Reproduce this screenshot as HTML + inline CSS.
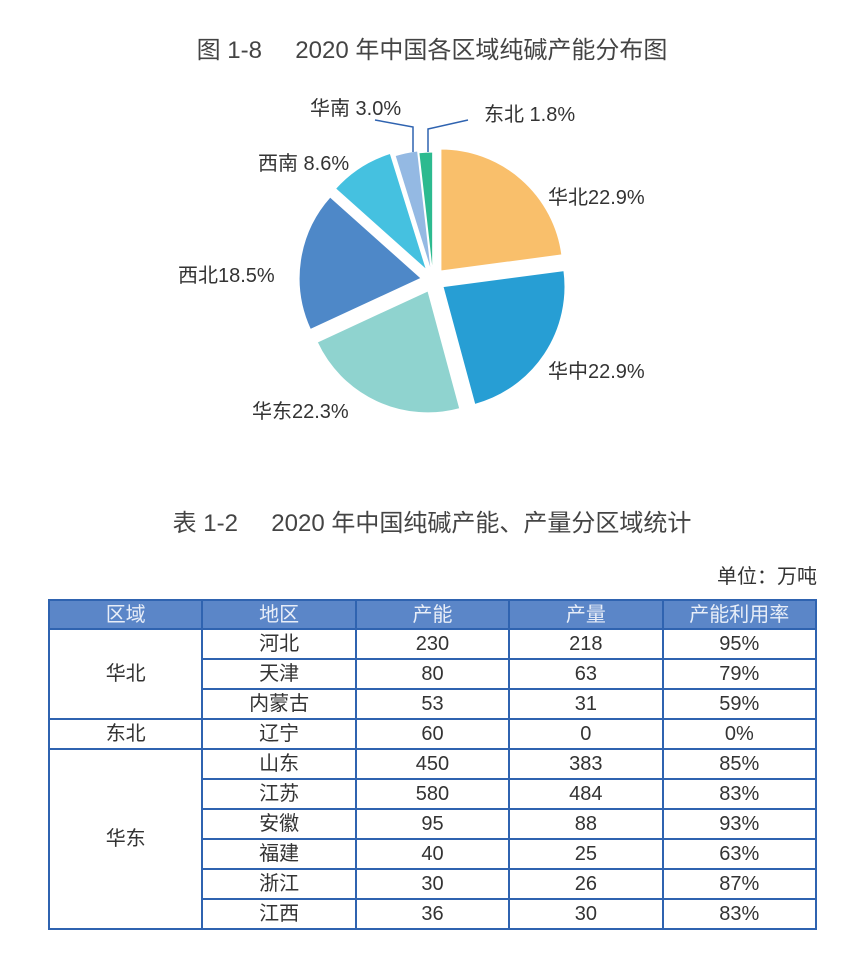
<!DOCTYPE html>
<html><head><meta charset="utf-8"><style>
body{margin:0;background:#fff;width:864px;height:956px;overflow:hidden;font-family:"Liberation Sans","Noto Sans CJK SC",sans-serif;color:#333;position:relative}
.t{position:absolute;white-space:nowrap}
table{position:absolute;left:48px;top:599px;width:769px;border-collapse:collapse;table-layout:fixed}
td,th{border:2px solid #2f63b0;height:28px;line-height:26px;padding:0;text-align:center;font-size:20px;font-weight:normal;color:#333;vertical-align:middle}
th{background:#5b86c8;color:#e8eef8;height:27px}
</style></head><body>
<div class="t" style="left:0;width:864px;text-align:center;top:30px;font-size:24px;color:#444">图 1-8&nbsp;&nbsp;&nbsp;&nbsp;&nbsp;2020 年中国各区域纯碱产能分布图</div>
<svg id="pie" width="864" height="470" style="position:absolute;left:0;top:0"></svg>
<div class="t" style="left:310px;top:92px;font-size:20px">华南 3.0%</div>
<div class="t" style="left:484px;top:98px;font-size:20px">东北 1.8%</div>
<div class="t" style="left:258px;top:147px;font-size:20px">西南 8.6%</div>
<div class="t" style="left:548px;top:181px;font-size:20px">华北22.9%</div>
<div class="t" style="left:178px;top:259px;font-size:20px">西北18.5%</div>
<div class="t" style="left:548px;top:355px;font-size:20px">华中22.9%</div>
<div class="t" style="left:252px;top:395px;font-size:20px">华东22.3%</div>
<div class="t" style="left:0;width:864px;text-align:center;top:503px;font-size:24px;color:#444">表 1-2&nbsp;&nbsp;&nbsp;&nbsp;&nbsp;2020 年中国纯碱产能、产量分区域统计</div>
<div class="t" style="right:47px;top:560px;font-size:20px">单位：万吨</div>
<table>
<tr><th>区域</th><th>地区</th><th>产能</th><th>产量</th><th>产能利用率</th></tr>
<tr><td rowspan="3">华北</td><td>河北</td><td>230</td><td>218</td><td>95%</td></tr>
<tr><td>天津</td><td>80</td><td>63</td><td>79%</td></tr>
<tr><td>内蒙古</td><td>53</td><td>31</td><td>59%</td></tr>
<tr><td>东北</td><td>辽宁</td><td>60</td><td>0</td><td>0%</td></tr>
<tr><td rowspan="6">华东</td><td>山东</td><td>450</td><td>383</td><td>85%</td></tr>
<tr><td>江苏</td><td>580</td><td>484</td><td>83%</td></tr>
<tr><td>安徽</td><td>95</td><td>88</td><td>93%</td></tr>
<tr><td>福建</td><td>40</td><td>25</td><td>63%</td></tr>
<tr><td>浙江</td><td>30</td><td>26</td><td>87%</td></tr>
<tr><td>江西</td><td>36</td><td>30</td><td>83%</td></tr>
</table>
<script>
var d=[[22.9,"#f9bf6b",12],[22.9,"#279ed4",12],[22.3,"#8fd3cf",12],[18.5,"#4e88c8",12],[8.6,"#45c1e0",12],[3.0,"#94b9e3",8],[1.8,"#2cba8f",6]];
var cx=433,cy=280,r=122,a=0,s="";
function p(c,ang){return [c[0]+r*Math.sin(ang),c[1]-r*Math.cos(ang)];}
d.forEach(function(v){var a0=a*Math.PI/50,a1=(a+v[0])*Math.PI/50,m=(a0+a1)/2;
var c=[cx+v[2]*Math.sin(m),cy-v[2]*Math.cos(m)];var P=p(c,a0),Q=p(c,a1);
s+='<path d="M'+c[0]+' '+c[1]+'L'+P[0]+' '+P[1]+'A'+r+' '+r+' 0 0 1 '+Q[0]+' '+Q[1]+'Z" fill="'+v[1]+'" stroke="#fff" stroke-width="1"/>';a+=v[0];});
s+='<polyline points="375,120 413,127 413,152" fill="none" stroke="#2f63b0" stroke-width="1.5"/>';
s+='<polyline points="468,120 428,129 428,152" fill="none" stroke="#2f63b0" stroke-width="1.5"/>';
document.getElementById("pie").innerHTML=s;
</script>
</body></html>
